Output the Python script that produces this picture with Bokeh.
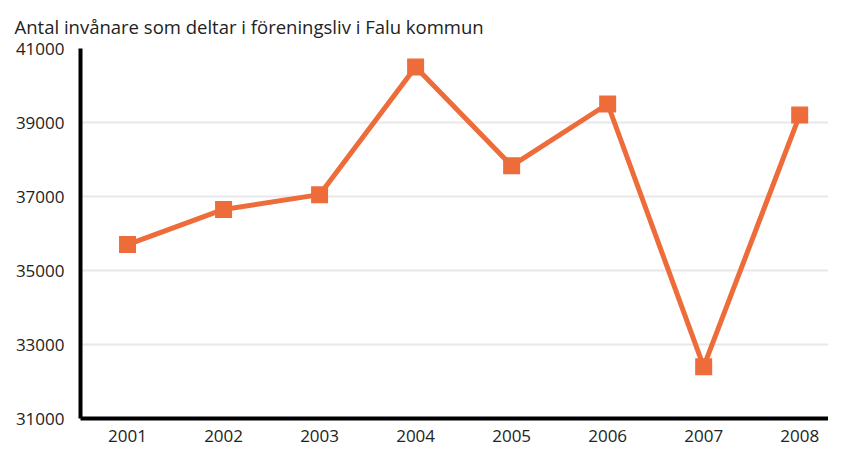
from bokeh.plotting import figure
from bokeh.models import FixedTicker, Range1d
from bokeh.embed import file_html
from bokeh.resources import INLINE

years = [2001, 2002, 2003, 2004, 2005, 2006, 2007, 2008]
members = [35700, 36650, 37050, 40500, 37830, 39500, 32400, 39200]
y_ticks = [31000, 33000, 35000, 37000, 39000, 41000]
title_text = "Antal invånare som deltar i föreningsliv i Falu kommun"

ORANGE = "#ED6C3A"
FONT = "Open Sans"

p = figure(width=828, height=448, output_backend="svg", toolbar_location=None,
           x_range=Range1d(2000.51, 2008.30), y_range=Range1d(31000, 41000),
           min_border_left=80, min_border_right=0, min_border_top=48, min_border_bottom=30,
           title=title_text)

p.title.text_font = FONT
p.title.text_font_size = "18.5px"
p.title.text_font_style = "normal"
p.title.text_color = "#222222"
p.title.align = "left"
p.title.offset = -66
p.title.standoff = 20

p.outline_line_color = None
p.background_fill_color = "white"
p.border_fill_color = "white"

p.xgrid.grid_line_color = None
p.ygrid.grid_line_color = "#e8e8e8"
p.ygrid.grid_line_width = 2
p.yaxis.ticker = FixedTicker(ticks=y_ticks)
p.xaxis.ticker = FixedTicker(ticks=years)

for ax in (p.xaxis[0], p.yaxis[0]):
    ax.axis_line_color = "black"
    ax.axis_line_width = 4
    ax.major_tick_line_color = None
    ax.minor_tick_line_color = None
    ax.major_label_text_font = FONT
    ax.major_label_text_font_size = "17px"
    ax.major_label_text_color = "#222222"

p.yaxis.major_label_standoff = 10
p.xaxis.major_label_standoff = 5

p.line(years, members, line_color=ORANGE, line_width=5)
p.scatter(years, members, marker="square", size=17, fill_color=ORANGE, line_color=None)

open("out.html", "w").write(file_html(p, INLINE))
